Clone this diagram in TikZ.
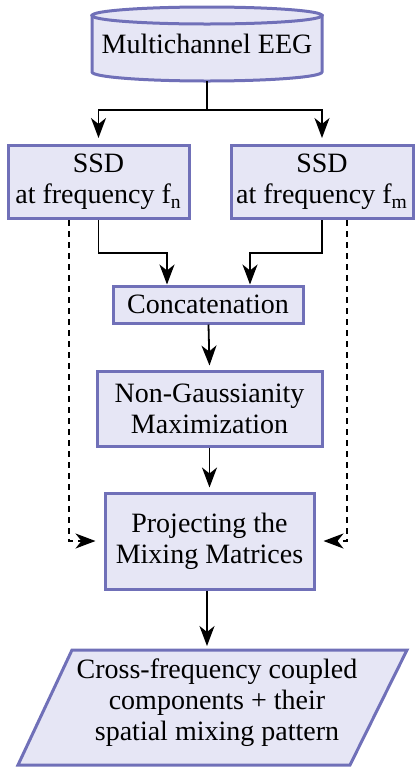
\documentclass[tikz,border=0pt]{standalone}
\usepackage{fontspec}
\setmainfont{Liberation Serif}
\usepackage{tikz}
\usetikzlibrary{positioning, arrows.meta, backgrounds}
\definecolor{boxfill}{HTML}{E6E6F5}
\definecolor{boxline}{HTML}{7070B8}
\tikzset{block/.style = {rectangle,draw=boxline,fill=boxfill,line width=1.5pt,align=center,inner sep=0pt},
         shell/.style = {draw=boxline,fill=boxfill,line width=1.5pt},
         flow/.style = {-{Stealth[length=10pt,width=7.5pt,inset=3pt]},line width=0.9pt},
         dflow/.style = {flow,dash pattern=on 3pt off 2.5pt}}

\begin{document}
\begin{tikzpicture}[x=0.5pt,y=-0.5pt,font=\fontsize{14}{15.5}\selectfont]
                    \useasboundingbox (0,0) rectangle (414,767);

                    \node [align=center,inner sep=0pt,minimum width=115pt,minimum height=37pt] (eeg) at (207,44) {Multichannel EEG};
                    \node [block,minimum width=90.5pt,minimum height=36.5pt] (ssdn) at (98.5,182) {SSD\\at frequency f\textsubscript{n}};
                    \node [block,minimum width=91pt,minimum height=36.5pt] (ssdm) at (322,182) {SSD\\at frequency f\textsubscript{m}};
                    \node [block,minimum width=95pt,minimum height=18.5pt] (conc) at (208,304.5) {Concatenation};
                    \node [block,minimum width=112.5pt,minimum height=37.5pt] (ngm) at (209.5,408.5) {Non-Gaussianity\\Maximization};
                    \node [block,minimum width=104.5pt,minimum height=48pt] (proj) at (209.5,541) {Projecting the\\Mixing Matrices};
                    \node [align=center,inner sep=0pt] (out) at (217,703) {Cross-frequency coupled\\components + their\\spatial mixing pattern};

                    % drum and slanted box behind the texts
                    \begin{scope}[on background layer]
                        \draw [shell] (92,15.5) -- (92,72)
                              arc [start angle=180,end angle=360,x radius=57.5pt,y radius=4.5pt] -- (322,15.5) -- cycle;
                        \draw [shell] (207,15.5) ellipse [x radius=57.5pt,y radius=4.25pt];
                        \draw [shell] (72,650) -- (407,650) -- (350,765) -- (18,765) -- cycle;
                    \end{scope}

                    \coordinate (split) at (207,110);
                    \draw [line width=0.9pt] (eeg.south) to (split);
                    \draw [flow] (split) -| ([yshift=3pt]ssdn.north);
                    \draw [flow] (split) -| ([yshift=3pt]ssdm.north);
                    \draw [flow] (ssdn.south) |- (167,253) to (conc.north -| 167,0);
                    \draw [flow] (ssdm.south) |- (250,253) to (conc.north -| 250,0);
                    \draw [flow] (conc) to ([yshift=2pt]ngm.north);
                    \draw [flow] (ngm) to ([yshift=2pt]proj.north);
                    \draw [flow] (proj.south -| 207,0) to (207,646);
                    \draw [dflow,shorten >=4pt] (ssdn.south -| 69,0) |- (proj.west);
                    \draw [dflow,shorten >=4pt] (ssdm.south -| 347,0) |- (proj.east);
                \end{tikzpicture}
\end{document}
